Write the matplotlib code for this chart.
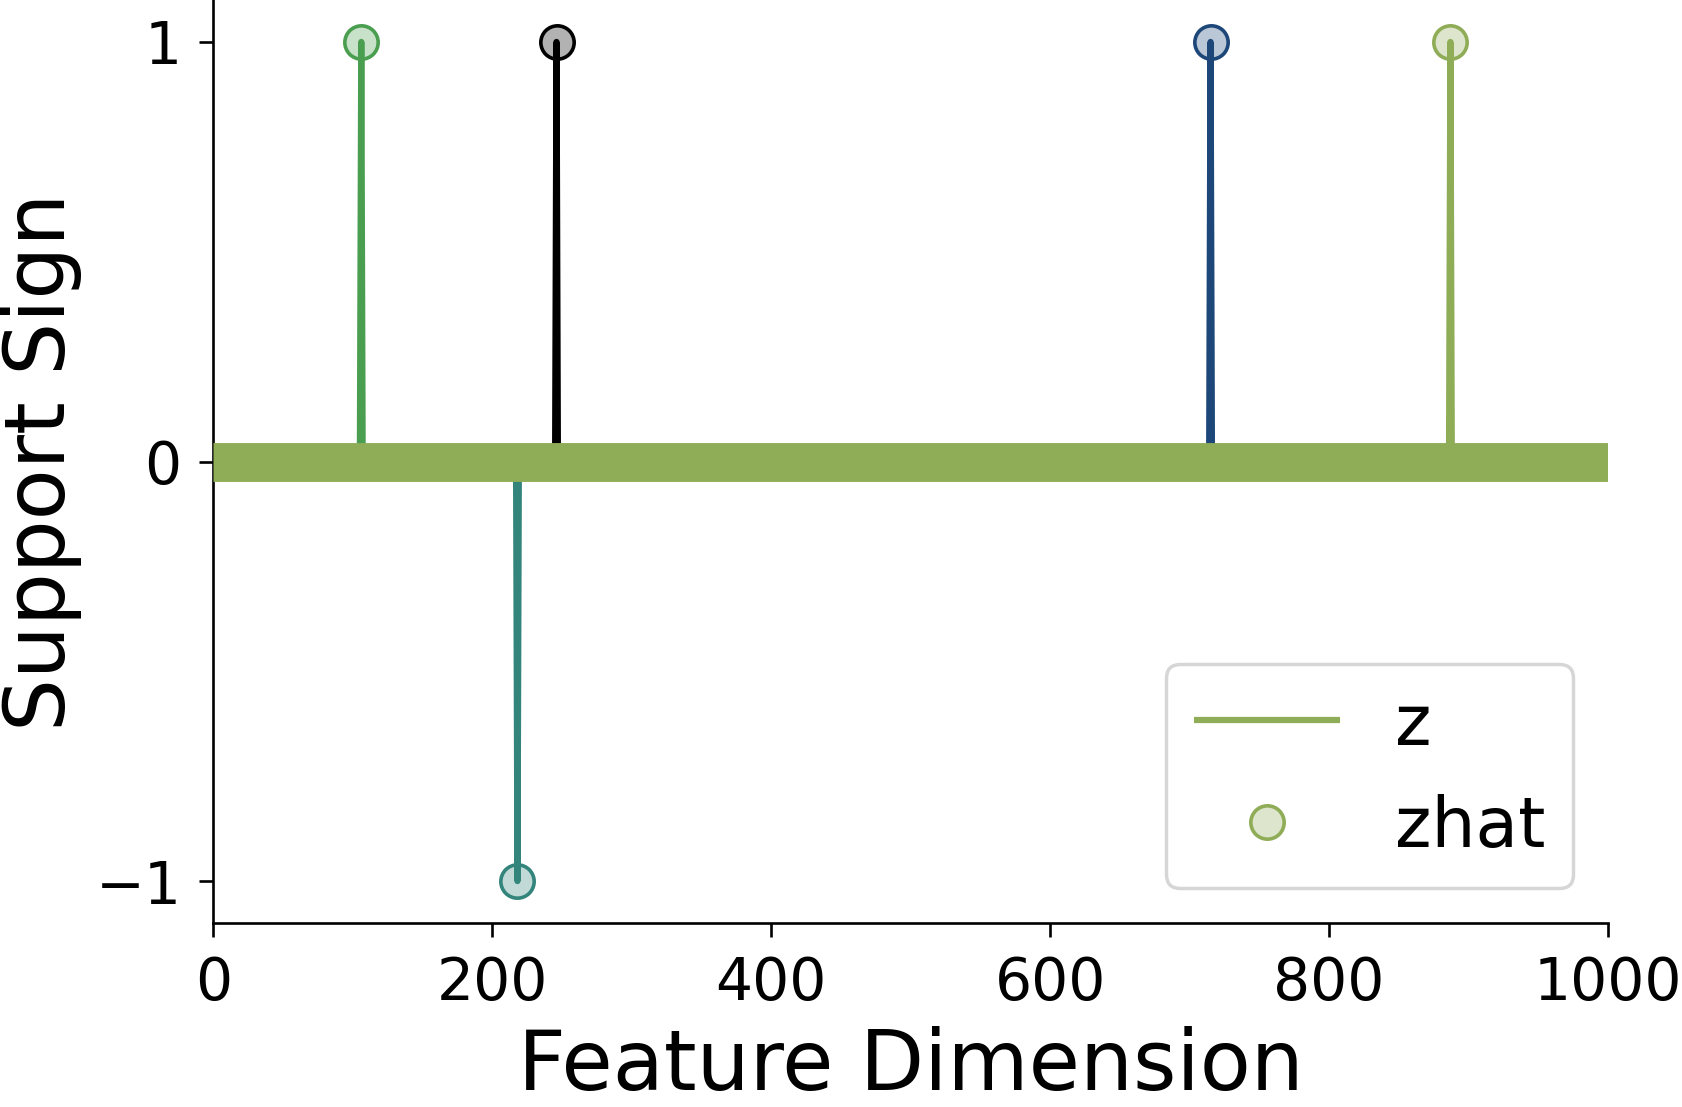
import matplotlib.pyplot as plt
import numpy as np

n_features = 1000
support_idx = [106, 218, 246, 715, 887]
support_sign = [1, -1, 1, 1, 1]
spike_colors = ['#4a9e4f', '#33857b', '#000000', '#1d4779', '#8fac57']
band_color = '#8fac57'

x_ticks = [0, 200, 400, 600, 800, 1000]
y_ticks = [-1, 0, 1]

z = np.zeros(n_features)
z[support_idx] = support_sign


def rgba(hex_color, alpha):
    h = hex_color.lstrip('#')
    return tuple(int(h[i:i + 2], 16) / 255 for i in (0, 2, 4)) + (alpha,)


fig = plt.figure(figsize=(16.82, 11.07), dpi=100)
ax = fig.add_axes([0.1269, 0.1662, 0.956 - 0.1269, 1.0 - 0.1662])

for k, (i, color) in enumerate(zip(support_idx, spike_colors)):
    last = k == len(support_idx) - 1
    xs = np.arange(i - 1, i + 2)
    ax.plot(xs, z[i - 1:i + 2], color=color, lw=4.5, solid_joinstyle='round',
            solid_capstyle='butt', zorder=3, label='z' if last else None)
    ax.plot([i], [z[i]], 'o', ms=24, mfc=rgba(color, 0.3), mec=color, mew=2.6,
            zorder=2, label='zhat' if last else None)

# the zero part of the signal, drawn as a thick band
ax.hlines(0, 0, n_features, color=band_color, lw=28, zorder=4, capstyle='butt')

ax.set_xlim(0, n_features)
ax.set_ylim(-1.1, 1.1)
ax.set_xticks(x_ticks)
ax.set_yticks(y_ticks)
ax.tick_params(labelsize=42, length=10, width=1.9, pad=13)
for side in ['top', 'right']:
    ax.spines[side].set_visible(False)
for side in ['left', 'bottom']:
    ax.spines[side].set_linewidth(1.9)

ax.set_xlabel('Feature Dimension', fontsize=60, labelpad=10)
ax.set_ylabel('Support Sign', fontsize=60, labelpad=10)

leg = ax.legend(loc='lower right', fontsize=50, framealpha=1, handlelength=2.1,
                handletextpad=0.8)
leg.get_frame().set_edgecolor('#d6d6d6')
leg.get_frame().set_linewidth(2.5)

fig.savefig('out.png', dpi=100)
